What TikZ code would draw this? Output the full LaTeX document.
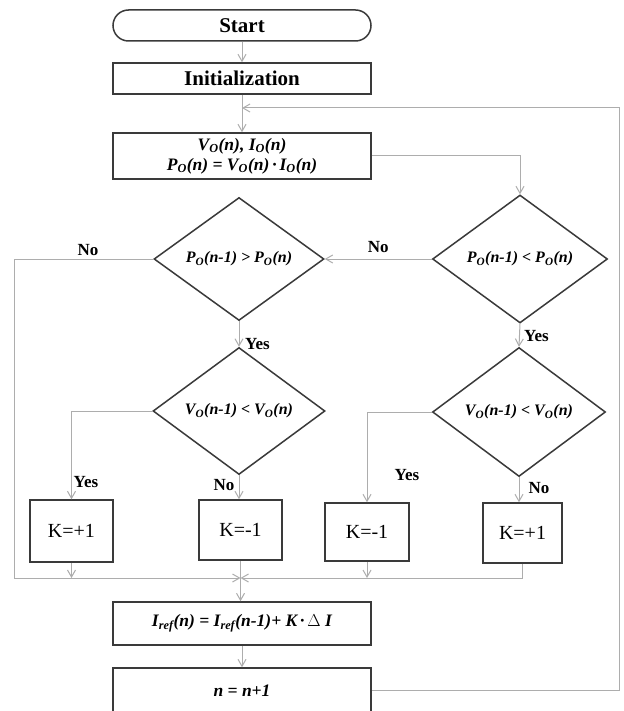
\documentclass[tikz,border=0pt]{standalone}
\usepackage{fontspec}
\setmainfont{Liberation Serif}
\usetikzlibrary{arrows.meta,shapes.geometric,calc}
\newcommand{\subO}{\textsubscript{\textit{O}}}
\newcommand{\mysubref}{\textsubscript{\textit{ref}}}
\definecolor{boxc}{HTML}{3A3A3A}
\definecolor{linec}{HTML}{ADADAD}
\begin{document}
\begin{tikzpicture}[x=1pt,y=-1pt,
  box/.style={draw=boxc, line width=1.5pt, rectangle, inner sep=0pt, fill=white},
  dec/.style={draw=boxc, line width=1.5pt, diamond, aspect=1.4, inner sep=0pt, fill=white, font=\bfseries\itshape\fontsize{16}{18}\selectfont},
  ftext/.style={font=\bfseries\itshape\fontsize{17.5}{20}\selectfont},
  kbox/.style={box, font=\fontsize{20}{22}\selectfont},
  conn/.style={draw=linec, line width=1pt},
  arr/.style={conn, -{Straight Barb[length=7pt,width=8pt]}},
  lab/.style={font=\bfseries\fontsize{17}{19}\selectfont, inner sep=0pt}
]
\useasboundingbox[fill=white] (0,0) rectangle (623,711);

% boxes
\node[box, rounded corners=15.5pt, minimum width=258pt, minimum height=31pt, font=\bfseries\fontsize{21}{23}\selectfont] (start) at (242,25.5) {Start};
\node[box, minimum width=258pt, minimum height=31pt, font=\bfseries\fontsize{21}{23}\selectfont] (init) at (242,78.5) {Initialization};
\node[box, minimum width=258pt, minimum height=46pt, ftext, align=center] (vbox) at (242,156)
  {V\subO(n), I\subO(n)\\ P\subO(n) = V\subO(n)\,·\,I\subO(n)};

% decisions
\node[dec, minimum width=170pt, minimum height=123pt] (d1) at (239,259) {P\subO(n-1) > P\subO(n)};
\node[dec, minimum width=175pt, minimum height=128pt] (d2) at (520,259) {P\subO(n-1) < P\subO(n)};
\node[dec, minimum width=172pt, minimum height=127pt] (d3) at (239,411) {V\subO(n-1) < V\subO(n)};
\node[dec, minimum width=173pt, minimum height=129pt] (d4) at (519,412) {V\subO(n-1) < V\subO(n)};

% K boxes
\node[kbox, minimum width=83pt, minimum height=62pt] (k1) at (71.5,531) {K=+1};
\node[kbox, minimum width=83pt, minimum height=60pt] (k2) at (240.5,530) {K=-1};
\node[kbox, minimum width=84pt, minimum height=58pt] (k3) at (367,532) {K=-1};
\node[kbox, minimum width=79pt, minimum height=60pt] (k4) at (522.5,533) {K=+1};

% bottom boxes
\node[box, minimum width=258pt, minimum height=43pt, ftext] (iref) at (242,623.5)
  {I\mysubref(n) = I\mysubref(n-1)+ K\,·\,\(\Delta\) I};
\node[box, minimum width=258pt, minimum height=45pt, ftext] (nn) at (242,690.5) {n = n+1};

% helper coordinates
\coordinate (merge) at (240.5,578);
\coordinate (ml) at (14,578);
\coordinate (fb) at (619,108);

% connectors
\draw[arr] (start.south -| init) -- (init.north);
\draw[arr] (init.south) -- (vbox.north);
\draw[arr] (vbox.east) -| (d2.north);
\draw[arr] (d2.west) -- node[lab, above=6pt, pos=0.5] {No} (d1.east);
\draw[arr] (d2.south) -- (d4.north);
\node[lab, anchor=west] (y2) at ($(d2.south)+(4,12)$) {Yes};
\draw[arr] (d1.south) -- (d3.north);
\node[lab, anchor=west] (y1) at ($(d1.south)+(6,23)$) {Yes};
\draw[arr] (d1.west) -- (d1.west -| ml) -- (ml) -- (merge);
\node[lab] (n1) at (88,250) {No};
\draw[arr] (d3.west) -| (k1.north);
\node[lab] (y3) at (86,482) {Yes};
\draw[arr] (d3.south) -- (d3.south |- k2.north);
\node[lab] (n3) at (224,485) {No};
\draw[arr] (d4.west) -| (k3.north);
\node[lab] (y4) at (407,475) {Yes};
\draw[arr] (d4.south) -- (d4.south |- k4.north);
\node[lab] (n4) at (539,488) {No};
\draw[arr] (k1.south) -- (k1.south |- merge);
\draw[arr] (k3.south) -- (k3.south |- merge);
\draw[arr] (k4.south) -- (k4.south |- merge) -- (merge);
\draw[arr] (k2.south) -- (k2.south |- iref.north);
\draw[arr] (iref.south) -- (nn.north);
\draw[arr] (nn.east) -- (nn.east -| fb) -- (fb) -- (fb -| init);
\end{tikzpicture}
\end{document}
